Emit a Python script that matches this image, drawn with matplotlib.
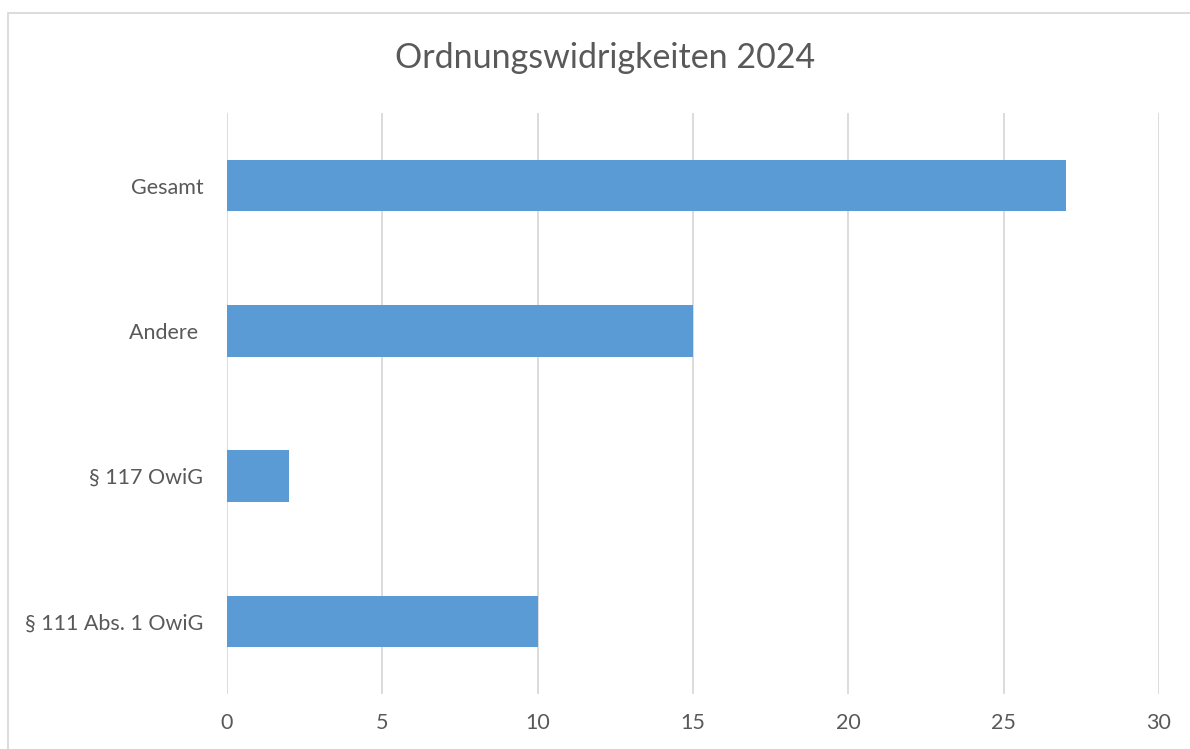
import matplotlib.pyplot as plt
from matplotlib.patches import Rectangle

categories = ['§ 111 Abs. 1 OwiG', '§ 117 OwiG', 'Andere ', 'Gesamt']
values = [10, 2, 15, 27]
xticks = [0, 5, 10, 15, 20, 25, 30]

plt.rcParams['font.family'] = ['Lato', 'DejaVu Sans']

W, H = 1190, 749
fig = plt.figure(figsize=(W / 100, H / 100), dpi=100)
ax = fig.add_axes([227 / W, 1 - 694 / H, (1159 - 227) / W, (694 - 113) / H])

ax.barh(range(len(categories)), values, height=0.355, color='#5B9BD5', zorder=3)
ax.set_ylim(-0.5, len(categories) - 0.5)
ax.set_xlim(0, 30)
ax.set_xticks(xticks)
ax.set_yticks(range(len(categories)))
ax.set_yticklabels(categories)
ax.grid(axis='x', color='#D9D9D9', lw=1.3, zorder=0)
for s in ax.spines.values():
    s.set_visible(False)
ax.tick_params(axis='both', length=0, labelsize=15.5, labelcolor='#595959')
ax.tick_params(axis='y', pad=17)
ax.tick_params(axis='x', pad=14)

fig.text(605 / W, 1 - 58 / H, 'Ordnungswidrigkeiten 2024', ha='center', va='center',
         fontsize=24.5, color='#595959')

fig.add_artist(Rectangle((8 / W, -0.1), 2, 1 - 13 / H + 0.1, transform=fig.transFigure,
                         fill=False, edgecolor='#D9D9D9', lw=1.3))

fig.savefig('out.png', dpi=100)
